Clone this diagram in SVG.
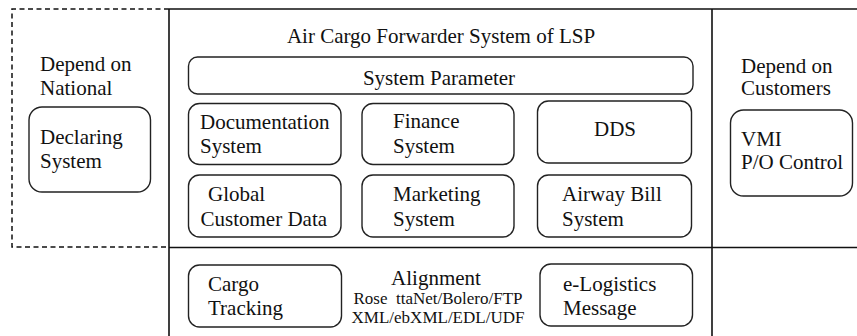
<svg xmlns="http://www.w3.org/2000/svg" width="857" height="336" viewBox="0 0 857 336">
<style>
text{font-family:"Liberation Serif","Times New Roman",serif;font-size:21px;fill:#111}
.s{font-size:17px}
.m{text-anchor:middle}
.box{fill:#fff;stroke:#222;stroke-width:1.4}
.ln{stroke:#111;stroke-width:1.6;fill:none}
.dash{stroke:#111;stroke-width:1.5;fill:none;stroke-dasharray:5 3.5}
</style>
<rect width="857" height="336" fill="#fff"/>
<g id="frame">
<path class="dash" d="M169 9 H12 V247 H169"/>
<path class="ln" d="M169 9 H857 M169 9 V336 M712 9 V336 M169 247.5 H857"/>
</g>
<g id="national">
<text x="40" y="71">Depend on</text>
<text x="40" y="95">National</text>
</g>
<g id="declaring">
<rect class="box" x="29" y="107" width="121.5" height="85" rx="13"/>
<text x="40" y="144">Declaring</text>
<text x="40" y="168">System</text>
</g>
<g id="title"><text class="m" x="441" y="43">Air Cargo Forwarder System of LSP</text></g>
<g id="sysparam">
<rect class="box" x="188.5" y="57" width="504.5" height="37" rx="9"/>
<text class="m" x="439" y="85">System Parameter</text>
</g>
<g id="doc">
<rect class="box" x="188.5" y="103.5" width="152.5" height="61" rx="11"/>
<text x="200" y="129">Documentation</text>
<text x="200" y="153">System</text>
</g>
<g id="finance">
<rect class="box" x="362" y="103.5" width="152" height="61" rx="11"/>
<text x="393" y="128">Finance</text>
<text x="393" y="153">System</text>
</g>
<g id="dds">
<rect class="box" x="537.5" y="101" width="154" height="62" rx="11"/>
<text class="m" x="615" y="135.5">DDS</text>
</g>
<g id="global">
<rect class="box" x="188.5" y="175" width="152.5" height="62" rx="11"/>
<text x="208" y="201">Global</text>
<text x="200.5" y="226">Customer Data</text>
</g>
<g id="marketing">
<rect class="box" x="362" y="175" width="152" height="62" rx="11"/>
<text x="393" y="201">Marketing</text>
<text x="393" y="226">System</text>
</g>
<g id="airway">
<rect class="box" x="537.5" y="175" width="154" height="62" rx="11"/>
<text x="562" y="201">Airway Bill</text>
<text x="562" y="226">System</text>
</g>
<g id="customers">
<text x="741" y="73">Depend on</text>
<text x="741" y="95">Customers</text>
</g>
<g id="vmi">
<rect class="box" x="730.5" y="110" width="122" height="86" rx="13"/>
<text x="741" y="146">VMI</text>
<text x="741" y="169">P/O Control</text>
</g>
<g id="cargo">
<rect class="box" x="188.5" y="265" width="153" height="62" rx="11"/>
<text x="208" y="291">Cargo</text>
<text x="208" y="315">Tracking</text>
</g>
<g id="alignment">
<text class="m" x="436" y="285">Alignment</text>
<text class="s m" x="438" y="304">Rose&#160; ttaNet/Bolero/FTP</text>
<text class="s m" x="438" y="323">XML/ebXML/EDL/UDF</text>
</g>
<g id="elog">
<rect class="box" x="540" y="264" width="152.5" height="62" rx="11"/>
<text x="563" y="291">e-Logistics</text>
<text x="563" y="315">Message</text>
</g>
<g id="connectors"></g>
</svg>
